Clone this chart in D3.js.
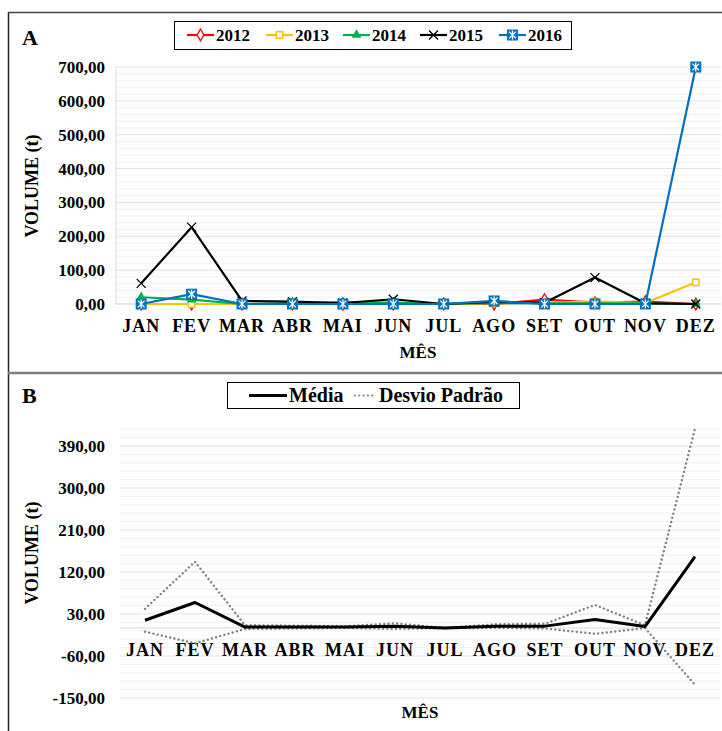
<!DOCTYPE html>
<html>
<head>
<meta charset="utf-8">
<script src="https://cdn.jsdelivr.net/npm/d3@7"></script>
<style>
  html, body { margin: 0; padding: 0; background: #fff; }
  svg text { font-family: "Liberation Serif", "Times New Roman", serif; font-weight: bold; fill: #000; }
</style>
</head>
<body>
<svg id="chart" width="722" height="731"></svg>
<script>
// Months on the horizontal axis
const months = ["JAN", "FEV", "MAR", "ABR", "MAI", "JUN", "JUL", "AGO", "SET", "OUT", "NOV", "DEZ"];

// Panel A: monthly volume (t) by year
const years = ["2012", "2013", "2014", "2015", "2016"];
const vol2012 = [0, 0, 0, 0, 0, 0, 0, 0, 13, 4, 7, 0];
const vol2013 = [0, 0, 0, 0, 0, 0, 0, 2, 3, 8, 3, 64];
const vol2014 = [20, 13, 0, 2, 5, 4, 0, 3, 2, 2, 2, 0];
const vol2015 = [61, 227, 9, 7, 3, 14, 0, 6, 4, 78, 2, 0];
const vol2016 = [0, 29, 0, 0, 0, 0, 0, 9, 0, 0, 0, 700];
const yTicksA = [0, 100, 200, 300, 400, 500, 600, 700];

// Panel B: monthly mean and standard deviation (t)
const media = [16.6, 54.6, 2, 2, 2, 4, 0, 4, 4, 18.4, 3, 153];
const desvio = [24.5, 87.4, 4, 3, 2, 6, 0, 4, 5, 30.9, 3, 274.7];
const yTicksB = [-150, -60, 30, 120, 210, 300, 390];

const svg = d3.select("#chart");
const fmt = d3.formatLocale({ decimal: ",", thousands: ".", grouping: [3], currency: ["", ""], minus: "-" }).format(".2f");

// ---------- frame ----------
svg.append("rect").attr("x", 0).attr("y", 0).attr("width", 722).attr("height", 731).attr("fill", "#fff");
svg.append("line").attr("x1", 8.5).attr("x2", 8.5).attr("y1", 12).attr("y2", 731).attr("stroke", "#222").attr("stroke-width", 1.5);
svg.append("line").attr("x1", 8).attr("x2", 722).attr("y1", 12.5).attr("y2", 12.5).attr("stroke", "#444").attr("stroke-width", 1.5);
svg.append("line").attr("x1", 8).attr("x2", 722).attr("y1", 373).attr("y2", 373).attr("stroke", "#808080").attr("stroke-width", 2.5);

// ---------- helpers ----------
function crossPath(r) {
  return `M${-r},${-r}L${r},${r}M${-r},${r}L${r},${-r}`;
}
function asteriskPath(r) {
  const d = r * 0.75;
  return `M0,${-r}L0,${r}M${-d},${-d}L${d},${d}M${-d},${d}L${d},${-d}`;
}
function drawMarker(g, kind, color) {
  if (kind === "diamond") {
    g.append("path").attr("d", d3.symbol(d3.symbolDiamond, 40)()).attr("fill", "#fff").attr("stroke", color).attr("stroke-width", 1.3);
  } else if (kind === "square") {
    g.append("path").attr("d", d3.symbol(d3.symbolSquare, 40)()).attr("fill", "#fff").attr("stroke", color).attr("stroke-width", 1.5);
  } else if (kind === "triangle") {
    g.append("path").attr("d", d3.symbol(d3.symbolTriangle, 42)()).attr("fill", color);
  } else if (kind === "x") {
    g.append("path").attr("d", crossPath(4.5)).attr("stroke", color).attr("stroke-width", 1.3).attr("fill", "none");
  } else if (kind === "star") {
    g.append("rect").attr("x", -5.5).attr("y", -5.5).attr("width", 11).attr("height", 11).attr("fill", color);
    g.append("path").attr("d", asteriskPath(4.5)).attr("stroke", "#fff").attr("stroke-width", 1.3).attr("fill", "none");
  }
}
function styleTicks(axisG, size) {
  axisG.select(".domain").remove();
  axisG.selectAll("text")
    .style("font-family", "'Liberation Serif', 'Times New Roman', serif")
    .style("font-weight", "bold")
    .style("font-size", size + "px")
    .attr("fill", "#000");
}

// ---------- Panel A ----------
const seriesA = [
  { name: years[0], values: vol2012, color: "#FF0000", marker: "diamond" },
  { name: years[1], values: vol2013, color: "#FFC000", marker: "square" },
  { name: years[2], values: vol2014, color: "#00B050", marker: "triangle" },
  { name: years[3], values: vol2015, color: "#000000", marker: "x" },
  { name: years[4], values: vol2016, color: "#0070C0", marker: "star" }
];

const xA = d3.scaleBand().domain(months).range([116, 721]);
const yA = d3.scaleLinear().domain([0, 700]).range([304, 67]);
const gA = svg.append("g");

// gridlines
gA.append("g").selectAll("line").data(d3.range(0, 701, 20)).join("line")
  .attr("x1", 116).attr("x2", 721)
  .attr("y1", d => yA(d)).attr("y2", d => yA(d))
  .attr("stroke", d => d % 100 === 0 ? "#e2e2e2" : "#f1f1f1").attr("stroke-width", 1);
gA.append("line").attr("x1", 116).attr("x2", 116).attr("y1", yA(700)).attr("y2", yA(0)).attr("stroke", "#d9d9d9");
gA.append("line").attr("x1", 116).attr("x2", 721).attr("y1", yA(0)).attr("y2", yA(0)).attr("stroke", "#d9d9d9");

// axes
const axA = gA.append("g").attr("transform", "translate(116,0)")
  .call(d3.axisLeft(yA).tickValues(yTicksA).tickFormat(fmt).tickSize(0).tickPadding(11));
styleTicks(axA, 17);
const axAx = gA.append("g").attr("transform", `translate(0,${yA(0)})`)
  .call(d3.axisBottom(xA).tickSize(0).tickPadding(15));
styleTicks(axAx, 18);
axAx.selectAll("text").style("letter-spacing", "1px");

// lines and markers
const lineA = d3.line().x((d, i) => xA(months[i]) + xA.bandwidth() / 2).y(d => yA(d));
seriesA.forEach(s => {
  const g = gA.append("g");
  g.append("path").datum(s.values).attr("d", lineA).attr("fill", "none")
    .attr("stroke", s.color).attr("stroke-width", 2.2).attr("stroke-linejoin", "round");
  s.values.forEach((v, i) => {
    const m = g.append("g").attr("transform", `translate(${xA(months[i]) + xA.bandwidth() / 2},${yA(v)})`);
    drawMarker(m, s.marker, s.color);
  });
});

// titles
svg.append("text").attr("x", 22).attr("y", 45).style("font-size", "22px").text("A");
svg.append("text").attr("x", 418).attr("y", 358).attr("text-anchor", "middle").style("font-size", "17px").text("MÊS");
svg.append("text").attr("transform", "translate(38,186) rotate(-90)").attr("text-anchor", "middle").style("font-size", "18px").text("VOLUME (t)");

// legend A
svg.append("rect").attr("x", 174.5).attr("y", 21.5).attr("width", 397).attr("height", 28).attr("fill", "#fff").attr("stroke", "#000").attr("stroke-width", 1);
const legX = [187, 266, 343, 420, 499];
seriesA.forEach((s, i) => {
  const g = svg.append("g").attr("transform", `translate(${legX[i]},35)`);
  g.append("line").attr("x1", 0).attr("x2", 27).attr("stroke", s.color).attr("stroke-width", 2.2);
  drawMarker(g.append("g").attr("transform", "translate(13.5,0)"), s.marker, s.color);
  g.append("text").attr("x", 29).attr("y", 6).style("font-size", "17px").text(s.name);
});

// ---------- Panel B ----------
const xB = d3.scaleBand().domain(months).range([120, 720]);
const yB = d3.scaleLinear().domain([-150, 426]).range([698, 429.2]);
const gB = svg.append("g");

gB.append("g").selectAll("line").data(d3.range(-150, 427, 18)).join("line")
  .attr("x1", 120).attr("x2", 720)
  .attr("y1", d => yB(d)).attr("y2", d => yB(d))
  .attr("stroke", d => (d + 150) % 90 === 0 ? "#e2e2e2" : "#f1f1f1").attr("stroke-width", 1);
gB.append("line").attr("x1", 120).attr("x2", 720).attr("y1", yB(0)).attr("y2", yB(0)).attr("stroke", "#d9d9d9");

const axB = gB.append("g").attr("transform", "translate(120,0)")
  .call(d3.axisLeft(yB).tickValues(yTicksB).tickFormat(fmt).tickSize(0).tickPadding(15));
styleTicks(axB, 17);
const axBx = gB.append("g").attr("transform", `translate(0,${yB(0)})`)
  .call(d3.axisBottom(xB).tickSize(0).tickPadding(15));
styleTicks(axBx, 18);
axBx.selectAll("text").style("letter-spacing", "1px");

const cx = i => xB(months[i]) + xB.bandwidth() / 2;
const upper = media.map((m, i) => m + desvio[i]);
const lower = media.map((m, i) => m - desvio[i]);
const lineB = d3.line().x((d, i) => cx(i)).y(d => yB(d));

[upper, lower].forEach(arr => {
  gB.append("path").datum(arr).attr("d", lineB).attr("fill", "none")
    .attr("stroke", "#808080").attr("stroke-width", 2.4)
    .attr("stroke-dasharray", "0.01 4.3").attr("stroke-linecap", "round");
});
gB.append("path").datum(media).attr("d", lineB).attr("fill", "none")
  .attr("stroke", "#000").attr("stroke-width", 3).attr("stroke-linejoin", "round");

svg.append("text").attr("x", 22).attr("y", 403).style("font-size", "22px").text("B");
svg.append("text").attr("x", 420).attr("y", 718).attr("text-anchor", "middle").style("font-size", "17px").text("MÊS");
svg.append("text").attr("transform", "translate(38,553) rotate(-90)").attr("text-anchor", "middle").style("font-size", "18px").text("VOLUME (t)");

// legend B
svg.append("rect").attr("x", 227.5).attr("y", 382.5).attr("width", 292).attr("height", 26).attr("fill", "#fff").attr("stroke", "#000").attr("stroke-width", 1);
svg.append("line").attr("x1", 249).attr("x2", 287).attr("y1", 395.5).attr("y2", 395.5).attr("stroke", "#000").attr("stroke-width", 3);
svg.append("text").attr("x", 289).attr("y", 402).style("font-size", "20px").text("Média");
svg.append("line").attr("x1", 355).attr("x2", 375).attr("y1", 395.5).attr("y2", 395.5)
  .attr("stroke", "#808080").attr("stroke-width", 2.2).attr("stroke-dasharray", "0.01 4.3").attr("stroke-linecap", "round");
svg.append("text").attr("x", 379).attr("y", 402).style("font-size", "20px").text("Desvio Padrão");
</script>
</body>
</html>
